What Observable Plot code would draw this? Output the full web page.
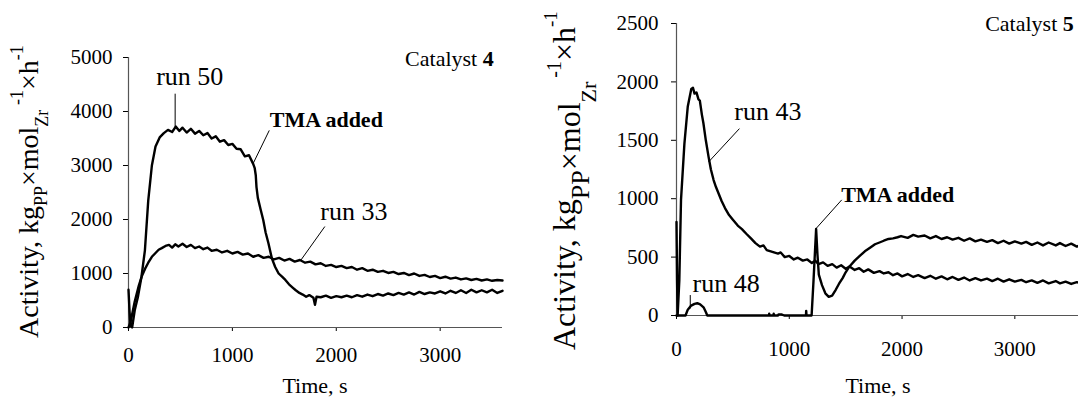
<!DOCTYPE html>
<html>
<head>
<meta charset="utf-8">
<script src="https://cdn.jsdelivr.net/npm/d3@7"></script>
<script src="https://cdn.jsdelivr.net/npm/@observablehq/plot@0.6"></script>
<style>
  html, body { margin: 0; padding: 0; background: #fff; overflow: hidden; }
  #wrap { display: flex; flex-direction: row; width: 1078px; height: 401px; overflow: hidden; }
  #wrap > div { flex: none; }
</style>
</head>
<body>
<div id="wrap"><div id="left"></div><div id="right"></div></div>
<script>
// ---------- Data ----------
const timeTicks = [0, 1000, 2000, 3000];
const cat4Ticks = [0, 1000, 2000, 3000, 4000, 5000];
const cat5Ticks = [0, 500, 1000, 1500, 2000, 2500];

// Catalyst 4, run 50 (TMA added at ~1200 s)
const run50Time = [0,10,20,35,60,90,125,158,190,225,260,300,340,380,420,455,490,520,560,600,640,680,720,760,800,840,880,920,960,1000,1040,1080,1120,1160,1200,1215,1225,1232,1245,1270,1297,1320,1347,1380,1412,1445,1478,1510,1545,1580,1610,1645,1677,1710,1740,1780,1795,1810,1850,1900,1950,2000,2050,2100,2150,2200,2250,2300,2350,2400,2450,2500,2550,2600,2650,2700,2750,2800,2850,2900,2950,3000,3050,3100,3150,3200,3250,3300,3350,3400,3450,3500,3550,3600];
const run50Act  = [700,300,30,0,320,560,940,1430,2350,3000,3350,3520,3600,3660,3620,3720,3640,3700,3610,3680,3590,3640,3560,3600,3500,3540,3440,3470,3380,3400,3310,3300,3170,3190,3030,2950,2820,2600,2400,2200,1990,1760,1560,1280,1120,1000,940,880,800,740,690,640,610,570,600,550,420,570,560,590,550,580,560,590,560,600,570,610,580,620,590,630,600,640,610,650,610,660,620,650,630,670,630,680,640,690,640,700,650,690,650,700,640,680];

// Catalyst 4, run 33
const run33Time = [0,20,60,100,130,160,190,225,260,290,320,356,390,420,450,480,520,560,600,640,680,720,760,800,850,900,950,1000,1050,1100,1150,1200,1250,1300,1350,1400,1450,1500,1550,1600,1650,1700,1750,1800,1850,1900,1950,2000,2050,2100,2150,2200,2250,2300,2350,2400,2450,2500,2550,2600,2650,2700,2750,2800,2850,2900,2950,3000,3050,3100,3150,3200,3250,3300,3350,3400,3450,3500,3550,3600];
const run33Act  = [0,100,480,780,960,1090,1200,1310,1380,1440,1470,1510,1530,1480,1540,1500,1550,1490,1530,1470,1500,1450,1480,1420,1440,1390,1420,1370,1400,1350,1370,1310,1340,1290,1310,1260,1290,1240,1270,1220,1250,1200,1220,1170,1190,1140,1160,1120,1140,1100,1120,1070,1100,1050,1070,1030,1050,1010,1030,990,1010,970,1000,955,975,935,955,915,940,905,925,890,910,880,900,870,890,865,880,870];

// Catalyst 5, run 43
const run43Time = [0,5,10,25,40,70,100,131,146,160,177,195,207,225,238,260,284,305,329,350,375,400,430,466,500,543,580,619,660,700,740,771,800,850,900,924,960,1000,1040,1076,1120,1160,1200,1229,1260,1300,1340,1381,1420,1460,1500,1534,1580,1620,1660,1700,1750,1800,1838,1880,1920,1960,2000,2050,2100,2143,2200,2250,2300,2350,2400,2448,2500,2550,2600,2650,2700,2753,2800,2850,2900,2950,3000,3058,3100,3150,3200,3250,3300,3363,3400,3450,3500,3550,3600];
const run43Act  = [800,300,0,300,990,1470,1790,1940,1950,1900,1910,1850,1840,1720,1650,1500,1360,1250,1160,1100,1040,980,920,860,820,770,740,700,660,620,590,600,560,545,530,540,500,510,480,495,470,480,450,470,440,455,425,440,410,430,400,420,390,405,375,395,365,380,360,370,345,360,335,355,330,345,320,340,315,335,310,330,305,325,300,320,300,315,295,315,290,310,290,305,285,300,280,300,275,295,275,290,270,285,270];

// Catalyst 5, run 48 (TMA added at ~1200 s)
const run48Time = [0,80,100,130,160,184,210,240,260,273,820,822,826,860,862,866,900,905,930,955,1148,1150,1153,1198,1215,1238,1250,1262,1290,1320,1350,1380,1412,1440,1473,1500,1534,1580,1625,1670,1716,1760,1800,1838,1880,1920,1960,1991,2050,2100,2143,2200,2250,2300,2350,2400,2448,2500,2550,2600,2650,2700,2753,2800,2850,2900,2950,3000,3058,3100,3150,3200,3250,3300,3363,3400,3450,3500,3550,3600];
const run48Act  = [0,0,50,85,100,105,95,70,30,0,0,15,0,0,15,0,0,10,10,0,0,40,0,0,300,740,520,350,260,190,160,170,220,270,320,370,420,470,510,550,580,610,625,640,655,660,670,680,665,690,675,685,660,680,655,670,650,665,640,660,635,650,630,645,620,640,615,635,615,630,605,625,600,625,600,620,595,615,590,610];

// Annotations (data units)
const cat4LabelText = ["run 50", "run 33"];
const cat4LabelTime = [590, 2170];
const cat4LabelAct  = [4640, 2150];
const cat4LeaderFrom = [[449, 4330], [1890, 1870], [1355, 3650]];
const cat4LeaderTo   = [[449, 3680], [1660, 1250], [1198, 3030]];
const cat4TmaAt = [1360, 3840];
const cat4TitleAt = [3520, 4980];

const cat5LabelText = ["run 43", "run 48"];
const cat5LabelTime = [810, 440];
const cat5LabelAct  = [1743, 275];
const cat5LeaderFrom = [[558, 1600], [122, 175], [1465, 990]];
const cat5LeaderTo   = [[284, 1314], [122, 60], [1238, 745]];
const cat5TmaAt = [1460, 1030];
const cat5TitleAt = [3527, 2500];

// ---------- Helpers ----------
const FONT = "'Liberation Serif', 'Times New Roman', serif";
const pts = (T, V) => T.map((t, i) => ({t, v: V[i]}));
const links = (A, B) => A.map((a, i) => ({x1: a[0], y1: a[1], x2: B[i][0], y2: B[i][1]}));
const labels = (S, T, V) => S.map((s, i) => ({s, t: T[i], v: V[i]}));

function yLabel(svg, x0, y0, parts) {
  const t = d3.select(svg).append("text")
    .attr("transform", `translate(${x0},${y0}) rotate(-90)`)
    .attr("text-anchor", "start")
    .style("font-family", FONT).attr("fill", "black");
  let prev = 0;
  for (const p of parts) {
    const ts = t.append("tspan").attr("font-size", p.size).attr("dy", p.off - prev).text(p.text);
    if (p.dx) ts.attr("dx", p.dx);
    prev = p.off;
  }
}
function xLabel(svg, cx, y, size) {
  d3.select(svg).append("text").attr("x", cx).attr("y", y)
    .attr("text-anchor", "middle").attr("font-size", size)
    .attr("fill", "black").text("Time, s");
}
function title(chart, at, num, size) {
  const x = chart.scale("x").apply(at[0]), y = chart.scale("y").apply(at[1]);
  const t = d3.select(chart).append("text").attr("x", x).attr("y", y).attr("dy", "0.35em")
    .attr("text-anchor", "end").attr("font-size", size).attr("fill", "black");
  t.append("tspan").text("Catalyst ");
  t.append("tspan").attr("font-weight", "bold").text(num);
}
function serifAll(svg) {
  d3.select(svg).selectAll("text").style("font-family", FONT);
}

function panel({width, ml, mr, mt, mb, yDomain, yTicks, xPad, yPad, series, lab, from, to, tma, fsLab, fsTick}) {
  return Plot.plot({
    width, height: 401,
    marginLeft: ml, marginRight: mr, marginTop: mt, marginBottom: mb,
    style: {fontFamily: FONT, fontSize: fsTick + "px", color: "black", background: "transparent", overflow: "visible"},
    x: {domain: [0, 3600], ticks: timeTicks, tickSize: 4, tickPadding: xPad, tickFormat: d => String(d), label: null},
    y: {domain: yDomain, ticks: yTicks, tickSize: 5, tickPadding: yPad, tickFormat: d => String(d), label: null},
    marks: [
      Plot.ruleY([0], {stroke: "#555", strokeWidth: 1.2}),
      Plot.ruleX([0], {stroke: "#555", strokeWidth: 1.2}),
      ...series.map(s => Plot.line(s, {x: "t", y: "v", stroke: "black", strokeWidth: 2.4})),
      Plot.link(links(from, to), {x1: "x1", y1: "y1", x2: "x2", y2: "y2", stroke: "black", strokeWidth: 1}),
      Plot.text(lab, {x: "t", y: "v", text: "s", fontSize: fsLab, fill: "black"}),
      Plot.text([tma], {x: d => d[0], y: d => d[1], text: () => "TMA added", fontSize: 22, fontWeight: "bold", textAnchor: "start", fill: "black"})
    ]
  });
}

// ---------- Left: Catalyst 4 ----------
const left = panel({
  width: 540, ml: 128, mr: 38, mt: 57, mb: 74,
  yDomain: [0, 5000], yTicks: cat4Ticks, xPad: 16, yPad: 11,
  series: [pts(run50Time, run50Act), pts(run33Time, run33Act)],
  lab: labels(cat4LabelText, cat4LabelTime, cat4LabelAct),
  from: cat4LeaderFrom, to: cat4LeaderTo, tma: cat4TmaAt, fsLab: 26, fsTick: 21
});
document.getElementById("left").append(left);
title(left, cat4TitleAt, "4", 22);
xLabel(left, 315, 393, 22);
yLabel(left, 38, 338, [
  {text: "Activity, kg", size: 28, off: 0},
  {text: "PP", size: 18, off: 9},
  {text: "×mol", size: 28, off: 0},
  {text: "Zr", size: 18, off: 10},
  {text: "-1", size: 18, off: -15, dx: 5},
  {text: "×h", size: 28, off: 0},
  {text: "-1", size: 18, off: -15}
]);
serifAll(left);

// ---------- Right: Catalyst 5 ----------
const right = panel({
  width: 542, ml: 136, mr: 0, mt: 23, mb: 86,
  yDomain: [0, 2500], yTicks: cat5Ticks, xPad: 22, yPad: 13,
  series: [pts(run43Time, run43Act), pts(run48Time, run48Act)],
  lab: labels(cat5LabelText, cat5LabelTime, cat5LabelAct),
  from: cat5LeaderFrom, to: cat5LeaderTo, tma: cat5TmaAt, fsLab: 26, fsTick: 21
});
document.getElementById("right").append(right);
title(right, cat5TitleAt, "5", 22);
xLabel(right, 338, 393, 22);
yLabel(right, 35, 350, [
  {text: "Activity, kg", size: 32, off: 0},
  {text: "PP", size: 26, off: 14},
  {text: "×mol", size: 32, off: 5},
  {text: "Zr", size: 22, off: 21},
  {text: "-1", size: 20, off: -14, dx: 4},
  {text: "×h", size: 32, off: 0},
  {text: "-1", size: 19, off: -18}
]);
serifAll(right);
</script>
</body>
</html>
